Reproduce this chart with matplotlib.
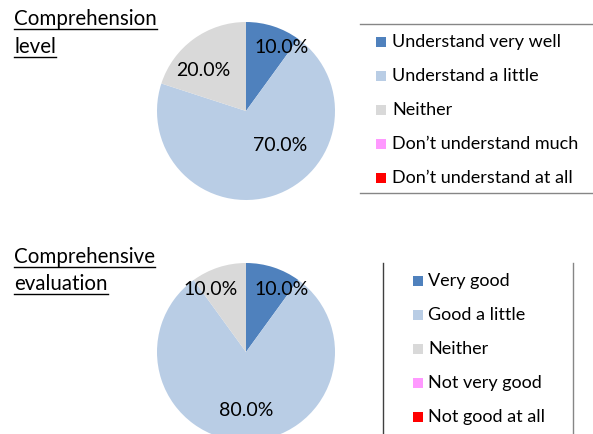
import matplotlib
matplotlib.use("Agg")
import matplotlib.pyplot as plt
from matplotlib.lines import Line2D
from matplotlib.patches import Rectangle

plt.rcParams['font.family'] = ['Lato', 'DejaVu Sans']

# Data
comp_labels = ["Understand very well", "Understand a little", "Neither",
               "Don\u2019t understand much", "Don\u2019t understand at all"]
comp_values = [10, 70, 20, 0, 0]

eval_labels = ["Very good", "Good a little", "Neither",
               "Not very good", "Not good at all"]
eval_values = [10, 80, 10, 0, 0]

colors = ["#4F81BD", "#B9CDE5", "#D9D9D9", "#FF99FF", "#FF0000"]

# label placement inside each pie (units of radius), None for empty slices
comp_label_pos = [(0.40, 0.71), (0.38, -0.39), (-0.48, 0.46), None, None]
eval_label_pos = [(0.40, 0.70), (0.0, -0.66), (-0.40, 0.70), None, None]

W, H = 593, 434
fig = plt.figure(figsize=(W / 100, H / 100), dpi=100)


def px_axes(x, y, w, h):
    return fig.add_axes([x / W, 1 - (y + h) / H, w / W, h / H])


def fmt(p):
    return "%.1f%%" % p if p > 0.05 else ""


def draw_pie(ax, values, label_pos):
    wedges, _, autotexts = ax.pie(values, colors=colors, startangle=90,
                                  counterclock=False, autopct=fmt,
                                  wedgeprops=dict(linewidth=0),
                                  textprops=dict(fontsize=14, color="black"))
    for t, pos in zip(autotexts, label_pos):
        if pos is not None:
            t.set_position(pos)
    ax.set_xlim(-1, 1)
    ax.set_ylim(-1, 1)
    ax.axis("off")
    return wedges


def draw_legend(labels, y0, mx, tx):
    for i, (lab, col) in enumerate(zip(labels, colors)):
        y = y0 + i * 34
        fig.add_artist(Rectangle((mx / W, 1 - (y + 5) / H), 10 / W, 10 / H,
                                 transform=fig.transFigure, color=col, lw=0))
        fig.text(tx / W, 1 - y / H, lab, va="center", ha="left", fontsize=13)


def hline(x0, x1, y, color):
    fig.add_artist(Line2D([x0 / W, x1 / W], [1 - y / H, 1 - y / H],
                          color=color, lw=1))


def vline(x, y0, y1, color):
    fig.add_artist(Line2D([x / W, x / W], [1 - y0 / H, 1 - y1 / H],
                          color=color, lw=1))


# Pie 1 - comprehension level
ax1 = px_axes(157, 22, 178, 178)
draw_pie(ax1, comp_values, comp_label_pos)

# Pie 2 - comprehensive evaluation (cut off at the bottom)
ax2 = px_axes(157, 263, 178, 178)
draw_pie(ax2, eval_values, eval_label_pos)

# Legends
draw_legend(comp_labels, 42, 376, 392)
hline(360, 593, 24, "#868686")
hline(360, 593, 193, "#868686")

draw_legend(eval_labels, 281, 413, 428)
vline(383, 263, 434, "#404040")
vline(573, 263, 434, "#868686")

# Underlined titles
titles = [("Comprehension", 25), ("level", 53),
          ("Comprehensive", 263), ("evaluation", 290)]
title_texts = [fig.text(14 / W, 1 - y / H, s, va="baseline", ha="left",
                        fontsize=14.8) for s, y in titles]

fig.canvas.draw()
renderer = fig.canvas.get_renderer()
for t, (s, y) in zip(title_texts, titles):
    bb = t.get_window_extent(renderer)
    hline(bb.x0, bb.x1, y + 3.5, "black")

fig.savefig("out.png", dpi=100)
